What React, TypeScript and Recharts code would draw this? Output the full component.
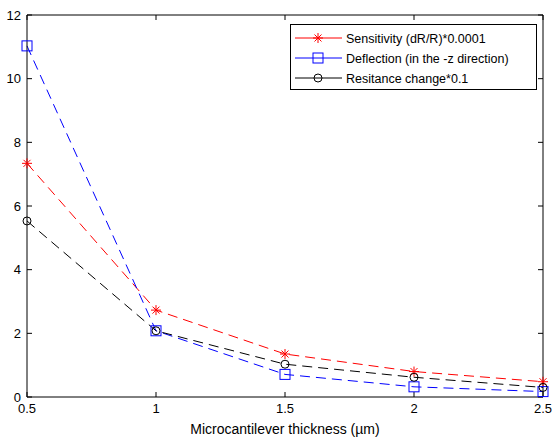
import React from "react";
import {
  LineChart,
  Line,
  XAxis,
  YAxis,
  ReferenceLine,
} from "recharts";

// thickness in µm
const thickness = [0.5, 1, 1.5, 2, 2.5];
const sensitivity = [7.34, 2.73, 1.35, 0.8, 0.48];
const deflection = [11.03, 2.08, 0.71, 0.32, 0.17];
const resistance = [5.53, 2.08, 1.03, 0.62, 0.3];

const xTicks = [0.5, 1, 1.5, 2, 2.5];
const yTicks = [0, 2, 4, 6, 8, 10, 12];

const X_MIN = 0.5;
const X_MAX = 2.5;
const Y_MAX = 12;

const data = thickness.map((t, i) => ({
  t,
  s: sensitivity[i],
  d: deflection[i],
  r: resistance[i],
}));

const FONT = "'Liberation Sans', Arial, sans-serif";

// inside tick length, in data units (plot is 516 x 382 px)
const TICK_DY = (Y_MAX / 382) * 5;
const TICK_DX = ((X_MAX - X_MIN) / 516) * 5;

const Star = ({ cx, cy, color }: any) => {
  if (cx == null || cy == null) return <g />;
  const r = 5;
  const k = r * 0.7;
  return (
    <g stroke={color} strokeWidth={1} fill="none">
      <line x1={cx - r} y1={cy} x2={cx + r} y2={cy} />
      <line x1={cx} y1={cy - r} x2={cx} y2={cy + r} />
      <line x1={cx - k} y1={cy - k} x2={cx + k} y2={cy + k} />
      <line x1={cx - k} y1={cy + k} x2={cx + k} y2={cy - k} />
    </g>
  );
};

const Square = ({ cx, cy, color }: any) => {
  if (cx == null || cy == null) return <g />;
  return (
    <rect x={cx - 5} y={cy - 5} width={10} height={10} fill="none" stroke={color} strokeWidth={1} />
  );
};

const Circle = ({ cx, cy, color }: any) => {
  if (cx == null || cy == null) return <g />;
  return <circle cx={cx} cy={cy} r={4} fill="none" stroke={color} strokeWidth={1} />;
};

const legendItems = [
  { label: "Sensitivity (dR/R)*0.0001", color: "#ff0000", Mark: Star },
  { label: "Deflection (in the -z direction)", color: "#0000ff", Mark: Square },
  { label: "Resitance change*0.1", color: "#000000", Mark: Circle },
];

const BoxLegend = () => (
  <svg width={247} height={66} style={{ display: "block" }}>
    <rect x={0.5} y={0.5} width={246} height={65} fill="#fff" stroke="#000" strokeWidth={1} />
    {legendItems.map((it, i) => {
      const y = 14 + i * 20;
      return (
        <g key={it.label}>
          <line x1={5} y1={y} x2={52} y2={y} stroke={it.color} strokeWidth={1} />
          <it.Mark cx={28} cy={y} color={it.color} />
          <text x={56} y={y + 4.5} fontSize={12.5} fontFamily={FONT} fill="#000">
            {it.label}
          </text>
        </g>
      );
    })}
  </svg>
);

export default function App() {
  return (
    <div style={{ position: "absolute", left: 0, top: 0, width: 555, height: 439, background: "#fff" }}>
      <LineChart
        width={555}
        height={439}
        data={data}
        margin={{ top: 15, right: 12, bottom: 0, left: 0 }}
        style={{ fontFamily: FONT }}
      >
        <XAxis
          dataKey="t"
          type="number"
          domain={[X_MIN, X_MAX]}
          ticks={xTicks}
          height={42}
          tickSize={-5}
          tickMargin={12}
          stroke="#000"
          tick={{ fill: "#000", fontSize: 13 }}
          label={{ value: "Microcantilever thickness (µm)", position: "insideBottom", offset: 5, fill: "#000", fontSize: 14 }}
        />
        <YAxis
          type="number"
          domain={[0, Y_MAX]}
          ticks={yTicks}
          width={27}
          tickSize={-5}
          tickMargin={11}
          stroke="#000"
          tick={{ fill: "#000", fontSize: 13 }}
        />

        {/* top and right edges of the box, with inside ticks */}
        <ReferenceLine y={Y_MAX} stroke="#000" strokeWidth={1} />
        <ReferenceLine x={X_MAX} stroke="#000" strokeWidth={1} />
        {xTicks.map((v) => (
          <ReferenceLine
            key={"tx" + v}
            segment={[{ x: v, y: Y_MAX }, { x: v, y: Y_MAX - TICK_DY }]}
            stroke="#000"
            strokeWidth={1}
          />
        ))}
        {yTicks.map((v) => (
          <ReferenceLine
            key={"ty" + v}
            segment={[{ x: X_MAX, y: v }, { x: X_MAX - TICK_DX, y: v }]}
            stroke="#000"
            strokeWidth={1}
          />
        ))}

        <Line
          type="linear"
          dataKey="s"
          stroke="#ff0000"
          strokeWidth={1}
          strokeDasharray="10 6"
          dot={(p: any) => <Star key={p.index} cx={p.cx} cy={p.cy} color="#ff0000" />}
          isAnimationActive={false}
        />
        <Line
          type="linear"
          dataKey="d"
          stroke="#0000ff"
          strokeWidth={1}
          strokeDasharray="10 6"
          dot={(p: any) => <Square key={p.index} cx={p.cx} cy={p.cy} color="#0000ff" />}
          isAnimationActive={false}
        />
        <Line
          type="linear"
          dataKey="r"
          stroke="#000000"
          strokeWidth={1}
          strokeDasharray="10 6"
          dot={(p: any) => <Circle key={p.index} cx={p.cx} cy={p.cy} color="#000000" />}
          isAnimationActive={false}
        />
      </LineChart>
      <div style={{ position: "absolute", left: 290, top: 24 }}>
        <BoxLegend />
      </div>
    </div>
  );
}
